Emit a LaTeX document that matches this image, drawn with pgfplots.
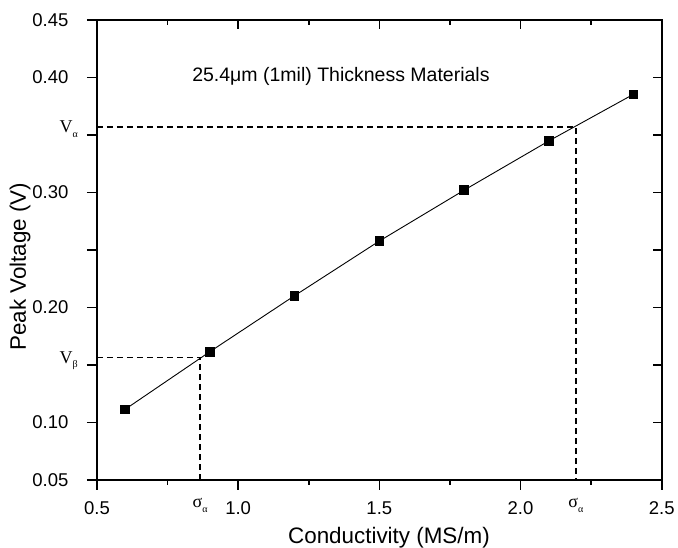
\documentclass[border=0pt]{standalone}
\usepackage{pgfplots}
\pgfplotsset{compat=1.18}
\usepackage{fontspec}
\setmainfont{Liberation Sans}
\newfontfamily\serif{Liberation Serif}
\newcommand{\gsub}[2]{{\serif\fontsize{18}{18}\selectfont #1\raisebox{-0.5ex}{\fontsize{10}{10}\selectfont #2}}}
\begin{document}
\begin{tikzpicture}
\path[use as bounding box] (-97pt,-68pt) rectangle (581pt,480pt);
\begin{axis}[
  at={(0,0)}, anchor=south west,
  scale only axis, width=564.7pt, height=460pt,
  xmin=0.5, xmax=2.5, ymin=0.05, ymax=0.45,
  xtick={0.5,1,1.5,2,2.5},
  xticklabels={0.5,1.0,1.5,2.0,2.5},
  minor xtick={0.75,1.25,1.75,2.25},
  ytick={0.05,0.10,0.15,0.20,0.25,0.30,0.35,0.40,0.45},
  yticklabels={0.05,0.10,,0.20,,0.30,,0.40,0.45},
  xtick pos=left, ytick pos=left,
  tick align=outside,
  major tick length=10pt, minor tick length=5pt,
  axis line style={line width=1.6pt},
  every tick/.style={line width=1.6pt, black},
  /pgf/number format/assume math mode=true,
  ticklabel style={font=\fontsize{18.5}{18.5}\selectfont},
  yticklabel style={xshift=-15pt},
  xticklabel style={yshift=-8pt},
  xlabel={Conductivity (MS/m)},
  ylabel={Peak Voltage (V)},
  label style={font=\fontsize{22.4}{22.4}\selectfont},
  xlabel style={at={(axis description cs:0.517,-0.126)}, anchor=center},
  ylabel style={at={(axis description cs:-0.136,0.4637)}, anchor=center},
  clip=false,
]
\addplot[black, line width=0.9pt, mark=square*, mark size=4.3pt,
  mark options={solid}] coordinates {
  (0.6,0.1115) (0.9,0.1616) (1.2,0.2103) (1.5,0.2578)
  (1.8,0.3020) (2.1,0.3448) (2.4,0.3854)
};
\addplot[black, line width=1.4pt, dash pattern=on 6pt off 4pt] coordinates {
  (0.5,0.1565) (0.865,0.1565) (0.865,0.05)
};
\addplot[black, line width=1.4pt, dash pattern=on 6pt off 4pt] coordinates {
  (0.5,0.357) (2.196,0.357) (2.196,0.05)
};
\node[font=\fontsize{19.5}{19.5}\selectfont] at (axis cs:1.364,0.401)
  {25.4μm (1mil) Thickness Materials};
\node[anchor=base east, inner sep=0pt]
  at ([xshift=-19pt, yshift=-6pt]axis cs:0.5,0.357) {\gsub{V}{α}};
\node[anchor=base east, inner sep=0pt]
  at ([xshift=-19pt, yshift=-6pt]axis cs:0.5,0.1565) {\gsub{V}{β}};
\node[anchor=base, inner sep=0pt]
  at ([yshift=-28pt]axis cs:0.865,0.05) {\gsub{σ}{α}};
\node[anchor=base, inner sep=0pt]
  at ([yshift=-28pt]axis cs:2.196,0.05) {\gsub{σ}{α}};
\end{axis}
\begin{axis}[
  at={(0,0)}, anchor=south west,
  scale only axis, width=564.7pt, height=460pt,
  xmin=0.5, xmax=2.5, ymin=0.05, ymax=0.45,
  xtick={0.5,1,1.5,2,2.5},
  minor xtick={0.75,1.25,1.75,2.25},
  ytick={0.05,0.10,0.15,0.20,0.25,0.30,0.35,0.40,0.45},
  xticklabels={}, yticklabels={},
  xtick pos=right, ytick pos=right,
  tick align=inside,
  major tick length=9pt, minor tick length=5pt,
  axis line style={line width=1.6pt},
  every tick/.style={line width=1.6pt, black},
]
\end{axis}
\end{tikzpicture}
\end{document}
